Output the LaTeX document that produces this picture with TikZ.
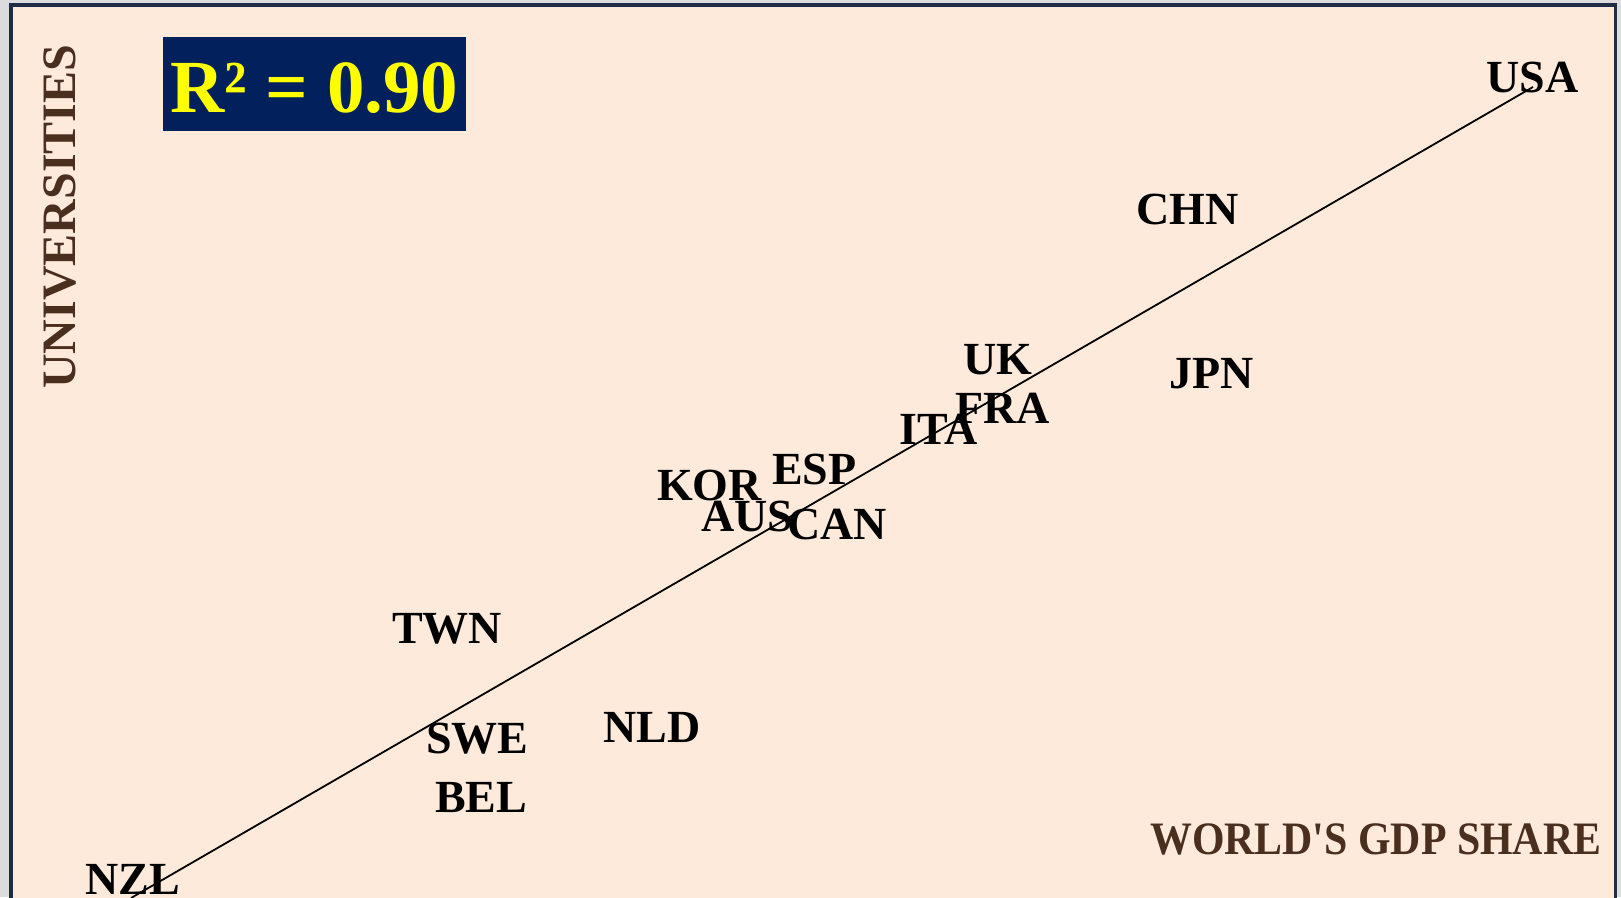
\documentclass[tikz,border=0pt]{standalone}
\usepackage{fontspec}
\setmainfont{Liberation Serif}[Ligatures=TeXOff]
\definecolor{pagegray}{HTML}{DCDCDC}
\definecolor{panelbg}{HTML}{FDEADB}
\definecolor{panelframe}{HTML}{1E2C48}
\definecolor{axisbrown}{HTML}{4A2E1E}
\definecolor{boxnavy}{HTML}{02205C}
\definecolor{ryellow}{HTML}{FFFF00}
\newfontfamily\narrowserif{Liberation Serif}[Ligatures=TeXOff,FakeStretch=0.9]
\tikzset{
  country/.style={anchor=base west, inner sep=0pt, font=\bfseries\fontsize{46}{50}\selectfont, text=black},
  axislabel/.style={anchor=base west, inner sep=0pt, text=axisbrown},
}
\begin{document}
\begin{tikzpicture}[x=1pt,y=-1pt]
\useasboundingbox (0,0) rectangle (1621,897);
\fill[pagegray] (0,0) rectangle (1621,897);
\fill[panelbg] (9,3) rectangle (1617,900);
\draw[panelframe,line width=3.5pt] (10.75,900) -- (10.75,4.75) -- (1615.25,4.75) -- (1615.25,900);
% R^2 box
\fill[boxnavy] (163,37) rectangle (466,131);
\node[anchor=base west, inner sep=0pt, text=ryellow, font=\bfseries\fontsize{75}{80}\selectfont] (rsq) at (170,112) {R² = 0.90};
% axis labels
\node[axislabel, rotate=90, font=\bfseries\fontsize{48}{50}\selectfont] (ylab) at (75,389) {UNIVERSITIES};
\node[axislabel, font=\narrowserif\bfseries\fontsize{46.5}{50}\selectfont] (xlab) at (1150,854) {WORLD'S GDP SHARE};
% regression line
\coordinate (lineA) at (131,898);
\coordinate (lineB) at (1533,87);
\begin{scope}
\clip (12.5,6.5) rectangle (1613.5,897);
\draw[black, line width=1.8pt] (lineA) -- (lineB);
\end{scope}
% countries
\node[country] (usa) at (1486,92) {USA};
\node[country] (chn) at (1136,224) {CHN};
\node[country] (uk)  at (963,374) {UK};
\node[country] (jpn) at (1169,388) {JPN};
\node[country] (fra) at (955,423) {FRA};
\node[country] (ita) at (899,444) {ITA};
\node[country] (esp) at (772,484) {ESP};
\node[country] (kor) at (657,500) {KOR};
\node[country] (aus) at (701,531) {AUS};
\node[country] (can) at (787,539) {CAN};
\node[country] (twn) at (392,643) {TWN};
\node[country] (nld) at (603,742) {NLD};
\node[country] (swe) at (426,753) {SWE};
\node[country] (bel) at (435,812) {BEL};
\node[country] (nzl) at (85,894) {NZL};
\end{tikzpicture}
\end{document}
